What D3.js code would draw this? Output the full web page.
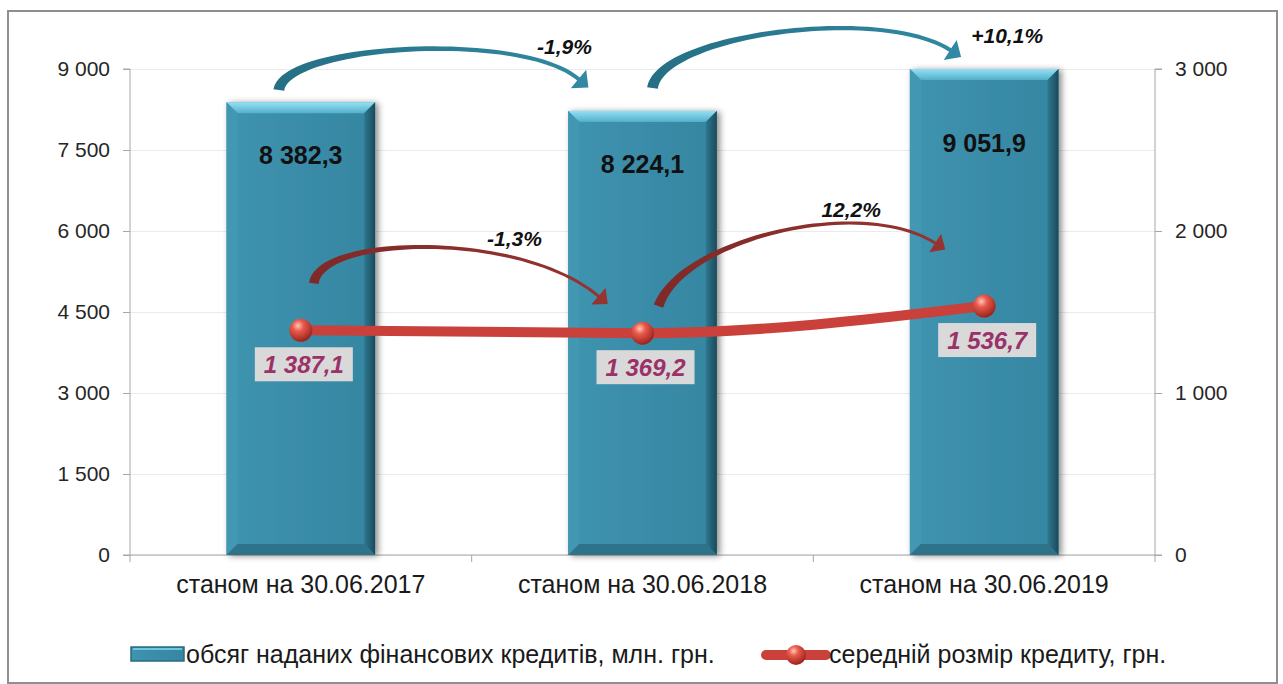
<!DOCTYPE html>
<html>
<head>
<meta charset="utf-8">
<script src="https://cdnjs.cloudflare.com/ajax/libs/d3/7.8.5/d3.min.js"></script>
<style>
  body { margin: 0; background: #fff; }
  text { font-family: "Liberation Sans", Arial, sans-serif; }
</style>
</head>
<body>
<div id="chart"></div>
<script>
var categories = ["станом на 30.06.2017", "станом на 30.06.2018", "станом на 30.06.2019"];
var volume = [8382.3, 8224.1, 9051.9];          // млн. грн., left axis
var avgSize = [1387.1, 1369.2, 1536.7];         // грн., right axis
var volumeChange = ["-1,9%", "+10,1%"];
var avgChange = ["-1,3%", "12,2%"];
var leftTicks = [0, 1500, 3000, 4500, 6000, 7500, 9000];
var rightTicks = [0, 1000, 2000, 3000];
var seriesNames = ["обсяг наданих фінансових кредитів, млн. грн.", "середній розмір кредиту, грн."];

var W = 1283, H = 684;
var margin = {top: 69, right: 128, bottom: 129, left: 130};

var uk = d3.formatLocale({decimal: ",", thousands: "\u00a0", grouping: [3], currency: ["", ""]});
var fmtTick = uk.format(",d");
var fmtVal = uk.format(",.1f");

var svg = d3.select("#chart")
  .append("svg")
    .attr("width", W)
    .attr("height", H);

var defs = svg.append("defs");

var shadow = defs.append("filter").attr("id", "barShadow")
    .attr("x", "-20%").attr("y", "-10%").attr("width", "140%").attr("height", "120%");
shadow.append("feDropShadow")
    .attr("dx", 3).attr("dy", 1).attr("stdDeviation", 3)
    .attr("flood-color", "#000").attr("flood-opacity", 0.45);

function linGrad(id, x2, y2, stops) {
  var g = defs.append("linearGradient").attr("id", id)
      .attr("x1", 0).attr("y1", 0).attr("x2", x2).attr("y2", y2);
  stops.forEach(function(s) {
    g.append("stop").attr("offset", s[0]).attr("stop-color", s[1]);
  });
}
linGrad("faceGrad", 1, 0, [[0, "#3f94b0"], [0.5, "#3a8ca8"], [1, "#3586a1"]]);
linGrad("topGrad", 0, 1, [[0, "#95e0f3"], [1, "#52b0ca"]]);
linGrad("rightGrad", 1, 0, [[0, "#2f7891"], [1, "#1b4a5a"]]);
linGrad("tealArrow", 1, 0, [[0, "#256f84"], [1, "#3189a3"]]);
linGrad("redArrow", 1, 0, [[0, "#7f2a28"], [1, "#963431"]]);

var sphere = defs.append("radialGradient").attr("id", "sphere")
    .attr("cx", "38%").attr("cy", "30%").attr("r", "70%");
sphere.append("stop").attr("offset", 0).attr("stop-color", "#ffc6b6");
sphere.append("stop").attr("offset", 0.35).attr("stop-color", "#e85a4c");
sphere.append("stop").attr("offset", 1).attr("stop-color", "#9c241d");

// outer frame
svg.append("rect")
    .attr("x", 8).attr("y", 11)
    .attr("width", 1269).attr("height", 672)
    .style("fill", "none")
    .style("stroke", "#8f8f8f")
    .style("stroke-width", 2);

var x = d3.scaleBand()
  .domain(categories)
  .range([margin.left, W - margin.right])
  .padding(0);

var yL = d3.scaleLinear()
  .domain([0, 9000])
  .range([H - margin.bottom, margin.top]);

var yR = d3.scaleLinear()
  .domain([0, 3000])
  .range([H - margin.bottom, margin.top]);

var cx = function(i) { return x(categories[i]) + x.bandwidth() / 2; };
var yTop = yL(yL.domain()[1]);
var yBottom = yL(0);

// gridlines
svg.append("g")
    .attr("class", "grid")
    .attr("transform", "translate(" + margin.left + ",0)")
  .call(d3.axisLeft(yL).tickValues(leftTicks).tickSize(-(W - margin.left - margin.right)).tickFormat(""))
  .call(function(g) { g.select(".domain").remove(); })
  .selectAll("line")
    .style("stroke", "#ebebeb");

// left axis
svg.append("g")
    .attr("transform", "translate(" + margin.left + ",0)")
  .call(d3.axisLeft(yL).tickValues(leftTicks).tickSize(7).tickPadding(13).tickFormat(fmtTick))
  .call(function(g) {
    g.select(".domain").style("stroke", "#a6a6a6").attr("d", "M-7," + yTop + "H0V" + yBottom + "H-7");
    g.selectAll("line").style("stroke", "#a6a6a6");
    g.selectAll("text").style("font-size", "21px").style("fill", "#262626")
      .style("font-family", "Liberation Sans, Arial, sans-serif");
  });

// right axis
svg.append("g")
    .attr("transform", "translate(" + (W - margin.right) + ",0)")
  .call(d3.axisRight(yR).tickValues(rightTicks).tickSize(7).tickPadding(13).tickFormat(fmtTick))
  .call(function(g) {
    g.select(".domain").style("stroke", "#a6a6a6").attr("d", "M7," + yTop + "H0V" + yBottom + "H7");
    g.selectAll("line").style("stroke", "#a6a6a6");
    g.selectAll("text").style("font-size", "21px").style("fill", "#262626")
      .style("font-family", "Liberation Sans, Arial, sans-serif");
  });

// x axis with ticks at category boundaries
var xAxis = svg.append("g")
    .attr("transform", "translate(0," + yBottom + ")");
xAxis.append("line")
    .attr("x1", margin.left).attr("x2", W - margin.right)
    .style("stroke", "#a6a6a6");
xAxis.selectAll(".bound")
    .data(categories.concat(["end"]))
  .join("line")
    .attr("class", "bound")
    .attr("x1", function(d, i) { return i < categories.length ? x(d) : x.range()[1]; })
    .attr("x2", function(d, i) { return i < categories.length ? x(d) : x.range()[1]; })
    .attr("y1", 0).attr("y2", 7)
    .style("stroke", "#a6a6a6");
xAxis.selectAll(".cat")
    .data(categories)
  .join("text")
    .attr("class", "cat")
    .attr("x", function(d) { return x(d) + x.bandwidth() / 2; })
    .attr("y", 38)
    .attr("text-anchor", "middle")
    .style("font-size", "25px")
    .style("fill", "#1a1a1a")
    .text(function(d) { return d; });

// bars with bevel
var bw = x.bandwidth() * 0.435;
var bev = 11;
var bars = svg.selectAll(".bar")
    .data(volume)
  .join("g")
    .attr("class", "bar")
    .style("filter", "url(#barShadow)");

function barGeom(d, i) {
  var x0 = cx(i) - bw / 2, x1 = cx(i) + bw / 2;
  var y0 = yL(Math.min(d, yL.domain()[1])), y1 = yBottom;
  return {x0: x0, x1: x1, y0: y0, y1: y1};
}
bars.append("rect")
    .attr("x", function(d, i) { return barGeom(d, i).x0; })
    .attr("y", function(d, i) { return barGeom(d, i).y0; })
    .attr("width", bw)
    .attr("height", function(d, i) { var g = barGeom(d, i); return g.y1 - g.y0; })
    .style("fill", "url(#faceGrad)");
bars.append("polygon")
    .attr("points", function(d, i) { var g = barGeom(d, i);
      return [[g.x0, g.y0], [g.x1, g.y0], [g.x1 - bev, g.y0 + bev], [g.x0 + bev, g.y0 + bev]].join(" "); })
    .style("fill", "url(#topGrad)");
bars.append("polygon")
    .attr("points", function(d, i) { var g = barGeom(d, i);
      return [[g.x0, g.y0], [g.x0 + bev, g.y0 + bev], [g.x0 + bev, g.y1 - bev], [g.x0, g.y1]].join(" "); })
    .style("fill", "#4398b3");
bars.append("polygon")
    .attr("points", function(d, i) { var g = barGeom(d, i);
      return [[g.x1, g.y0], [g.x1, g.y1], [g.x1 - bev, g.y1 - bev], [g.x1 - bev, g.y0 + bev]].join(" "); })
    .style("fill", "url(#rightGrad)");
bars.append("polygon")
    .attr("points", function(d, i) { var g = barGeom(d, i);
      return [[g.x0, g.y1], [g.x0 + bev, g.y1 - bev], [g.x1 - bev, g.y1 - bev], [g.x1, g.y1]].join(" "); })
    .style("fill", "#2f7389");

svg.selectAll(".barLabel")
    .data(volume)
  .join("text")
    .attr("class", "barLabel")
    .attr("x", function(d, i) { return cx(i); })
    .attr("y", function(d) { return Math.max(yL(d) + 62, yTop + 83); })
    .attr("text-anchor", "middle")
    .style("font-size", "25px")
    .style("font-weight", "bold")
    .style("fill", "#111")
    .text(function(d) { return fmtVal(d); });

// curved arrow shapes
function bez(p, t) {
  var u = 1 - t;
  return [0, 1].map(function(k) {
    return u*u*u*p[0][k] + 3*u*u*t*p[1][k] + 3*u*t*t*p[2][k] + t*t*t*p[3][k];
  });
}
function bezD(p, t) {
  var u = 1 - t;
  return [0, 1].map(function(k) {
    return 3*u*u*(p[1][k]-p[0][k]) + 6*u*t*(p[2][k]-p[1][k]) + 3*t*t*(p[3][k]-p[2][k]);
  });
}
function arrowPath(p, w0, w1, hw, hl) {
  var left = [], right = [], n = 48;
  for (var i = 0; i <= n; i++) {
    var t = i / n, pt = bez(p, t), d = bezD(p, t);
    var len = Math.hypot(d[0], d[1]), nx = -d[1] / len, ny = d[0] / len;
    var w = (w1 + (w0 - w1) * Math.pow(1 - t, 3)) / 2;
    left.push([pt[0] + nx * w, pt[1] + ny * w]);
    right.push([pt[0] - nx * w, pt[1] - ny * w]);
  }
  var e = p[3], de = bezD(p, 1), l = Math.hypot(de[0], de[1]);
  var dx = de[0] / l, dy = de[1] / l, nx2 = -dy, ny2 = dx;
  var head = [[e[0] + nx2 * hw, e[1] + ny2 * hw], [e[0] + dx * hl, e[1] + dy * hl], [e[0] - nx2 * hw, e[1] - ny2 * hw]];
  var pts = left.concat(head, right.reverse());
  return "M" + pts.map(function(q) { return q[0].toFixed(1) + "," + q[1].toFixed(1); }).join("L") + "Z";
}

var tealArrows = [
  {pts: [[cx(0) - 22, yTop + 21], [cx(0) - 16, yTop - 24], [cx(1) - 122, yTop - 39], [cx(1) - 64, yTop + 10]],
   label: volumeChange[0], lx: cx(1) - 78, ly: yTop - 15},
  {pts: [[cx(1) + 10, yTop + 19], [cx(1) + 18, yTop - 34], [cx(2) - 104, yTop - 64], [cx(2) - 34, yTop - 19]],
   label: volumeChange[1], lx: cx(2) + 23, ly: yTop - 26}
];
var redArrows = [
  {pts: [[cx(0) + 13, yR(avgSize[0]) - 47], [cx(0) + 19, yR(avgSize[0]) - 95], [cx(1) - 122, yR(avgSize[1]) - 103], [cx(1) - 44, yR(avgSize[1]) - 37]],
   label: avgChange[0], lx: cx(1) - 128, ly: yR(avgSize[1]) - 87},
  {pts: [[cx(1) + 16, yR(avgSize[1]) - 27], [cx(1) + 38, yR(avgSize[1]) - 93], [cx(2) - 124, yR(avgSize[2]) - 111], [cx(2) - 49, yR(avgSize[2]) - 63]],
   label: avgChange[1], lx: cx(2) - 133, ly: yR(avgSize[2]) - 89}
];

svg.selectAll(".tealArrow")
    .data(tealArrows)
  .join("path")
    .attr("class", "tealArrow")
    .attr("d", function(d) { return arrowPath(d.pts, 11, 4, 12, 13); })
    .style("fill", "url(#tealArrow)");

svg.selectAll(".redArrow")
    .data(redArrows)
  .join("path")
    .attr("class", "redArrow")
    .attr("d", function(d) { return arrowPath(d.pts, 10, 3, 11, 12); })
    .style("fill", "url(#redArrow)");

svg.selectAll(".pct")
    .data(tealArrows.concat(redArrows))
  .join("text")
    .attr("class", "pct")
    .attr("x", function(d) { return d.lx; })
    .attr("y", function(d) { return d.ly; })
    .attr("text-anchor", "middle")
    .style("font-size", "21px")
    .style("font-weight", "bold")
    .style("font-style", "italic")
    .style("fill", "#111")
    .text(function(d) { return d.label; });

// average credit line
svg.append("path")
    .datum(avgSize)
    .attr("d", d3.line()
      .x(function(d, i) { return cx(i); })
      .y(function(d) { return yR(d); })
      .curve(d3.curveMonotoneX))
    .style("fill", "none")
    .style("stroke", "#c9413a")
    .style("stroke-width", 10);

svg.selectAll(".dot")
    .data(avgSize)
  .join("circle")
    .attr("class", "dot")
    .attr("cx", function(d, i) { return cx(i); })
    .attr("cy", function(d) { return yR(d); })
    .attr("r", 11.5)
    .style("fill", "url(#sphere)");

var lbl = svg.selectAll(".avgLabel")
    .data(avgSize)
  .join("g")
    .attr("class", "avgLabel")
    .attr("transform", function(d, i) { return "translate(" + (cx(i) + 3) + "," + (yR(d) + 17) + ")"; });
lbl.append("rect")
    .attr("x", -49).attr("y", 0)
    .attr("width", 98).attr("height", 34)
    .style("fill", "#d9d9d9");
lbl.append("text")
    .attr("x", 0).attr("y", 26)
    .attr("text-anchor", "middle")
    .style("font-size", "24px")
    .style("font-weight", "bold")
    .style("font-style", "italic")
    .style("fill", "#9b3169")
    .text(function(d) { return fmtVal(d); });

// legend
var leg = svg.append("g");
leg.append("rect")
    .attr("x", 131).attr("y", 647)
    .attr("width", 53).attr("height", 14)
    .style("fill", "url(#faceGrad)")
    .style("stroke", "#2b6a80")
    .style("stroke-width", 1.5);
leg.append("line")
    .attr("x1", 133).attr("x2", 182).attr("y1", 649).attr("y2", 649)
    .style("stroke", "#6fc6df").style("stroke-width", 2);
leg.append("text")
    .attr("x", 186).attr("y", 663)
    .style("font-size", "25px")
    .style("fill", "#1a1a1a")
    .text(seriesNames[0]);
leg.append("line")
    .attr("x1", 766).attr("x2", 826).attr("y1", 655).attr("y2", 655)
    .style("stroke", "#c9413a").style("stroke-width", 10).style("stroke-linecap", "round");
leg.append("circle")
    .attr("cx", 796).attr("cy", 655).attr("r", 10)
    .style("fill", "url(#sphere)");
leg.append("text")
    .attr("x", 829).attr("y", 663)
    .style("font-size", "25px")
    .style("fill", "#1a1a1a")
    .text(seriesNames[1]);
</script>
</body>
</html>
